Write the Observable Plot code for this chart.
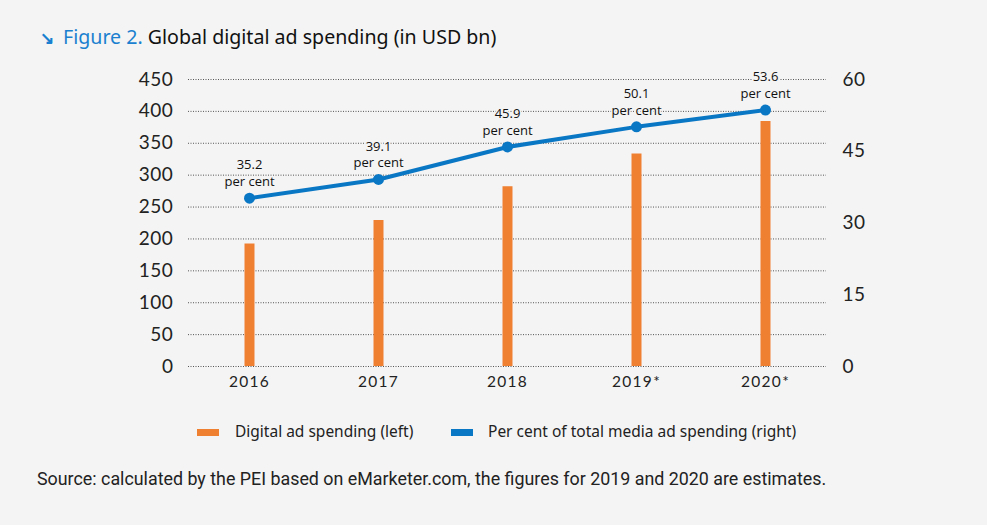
<!DOCTYPE html>
<html>
<head>
<meta charset="utf-8">
<script src="https://cdn.jsdelivr.net/npm/d3@7"></script>
<script src="https://cdn.jsdelivr.net/npm/@observablehq/plot@0.6"></script>
<style>
  html, body { margin: 0; padding: 0; background: #f4f4f4; }
  body { width: 987px; height: 525px; position: relative; overflow: hidden; font-family: "Noto Sans", sans-serif; }
  #title { position: absolute; left: 40px; top: 23px; font-size: 19.6px; color: #111; white-space: nowrap; }
  #title .fig { color: #1a80cf; }
  #title .arrow { color: #1a80cf; font-size: 17px; font-weight: bold; margin-right: 9px; display: inline-block; }
  #chart { position: absolute; left: 0; top: 60px; }
  #chart g[aria-label="y-axis tick label"] text { letter-spacing: 0.6px; }
  #chart g[aria-label="x-axis tick label"] text { letter-spacing: 1.3px; }
  #legend { position: absolute; left: 0; top: 420px; width: 987px; font-size: 15.5px; color: #222; }
  .item { position: absolute; top: 0; white-space: nowrap; }
  .sw { position: absolute; top: 9px; width: 22px; height: 7px; }
  #source { position: absolute; left: 37px; top: 468px; font-family: Roboto, sans-serif; font-size: 17.85px; color: #222; white-space: nowrap; }
</style>
</head>
<body>
<div id="title"><span class="arrow">&#8600;</span><span class="fig">Figure 2.</span> Global digital ad spending (in USD bn)</div>
<div id="chart"></div>
<div id="legend">
  <div class="sw" style="left:197px;background:#ef7f31"></div>
  <div class="item" style="left:235px">Digital ad spending (left)</div>
  <div class="sw" style="left:451px;background:#0a77c5"></div>
  <div class="item" style="left:488px">Per cent of total media ad spending (right)</div>
</div>
<div id="source">Source: calculated by the PEI based on eMarketer.com, the figures for 2019 and 2020 are estimates.</div>
<script>
const years = ["2016", "2017", "2018", "2019*", "2020*"];
const spending = [192, 229, 282, 333, 384];
const percent = [35.2, 39.1, 45.9, 50.1, 53.6];
const leftTicks = [0, 50, 100, 150, 200, 250, 300, 350, 400, 450];
const rightTicks = [0, 15, 30, 45, 60];

const ratio = 450 / 60;
const data = years.map((y, i) => ({year: y, spend: spending[i], pct: percent[i]}));

const chart = Plot.plot({
  width: 987,
  height: 340,
  marginLeft: 188,
  marginRight: 161,
  marginTop: 19,
  marginBottom: 34,
  style: {background: "transparent", fontFamily: "Lato, sans-serif", color: "#222"},
  x: {type: "point", domain: years, padding: 0.465, label: null},
  y: {domain: [0, 450], label: null},
  marks: [
    Plot.gridY(leftTicks, {stroke: "#444", strokeOpacity: 0.9, strokeDasharray: "1,1.5", strokeWidth: 1}),
    Plot.axisY(leftTicks, {anchor: "left", tickSize: 0, tickPadding: 15, fontSize: 19, label: null}),
    Plot.axisY(rightTicks.map(d => d * ratio), {anchor: "right", tickSize: 0, tickPadding: 16, fontSize: 19, label: null, tickFormat: d => String(Math.round(d / ratio))}),
    Plot.axisX(years, {tickSize: 0, tickPadding: 9, fontSize: 15.5, label: null}),
    Plot.ruleX(data, {x: "year", y1: 0, y2: "spend", stroke: "#ef7f31", strokeWidth: 10}),
    Plot.line(data, {x: "year", y: d => d.pct * ratio, stroke: "#0a77c5", strokeWidth: 4}),
    Plot.dot(data, {x: "year", y: d => d.pct * ratio, r: 5.5, fill: "#0a77c5"}),
    Plot.text(data, {x: "year", y: d => d.pct * ratio, text: d => d.pct.toFixed(1) + "\nper cent", lineAnchor: "bottom", dy: -12, fontSize: 13, lineHeight: 1.3, fill: "#111", stroke: "#f4f4f4", strokeWidth: 3, fontFamily: "'Open Sans', sans-serif"})
  ]
});
document.getElementById("chart").appendChild(chart);
</script>
</body>
</html>
